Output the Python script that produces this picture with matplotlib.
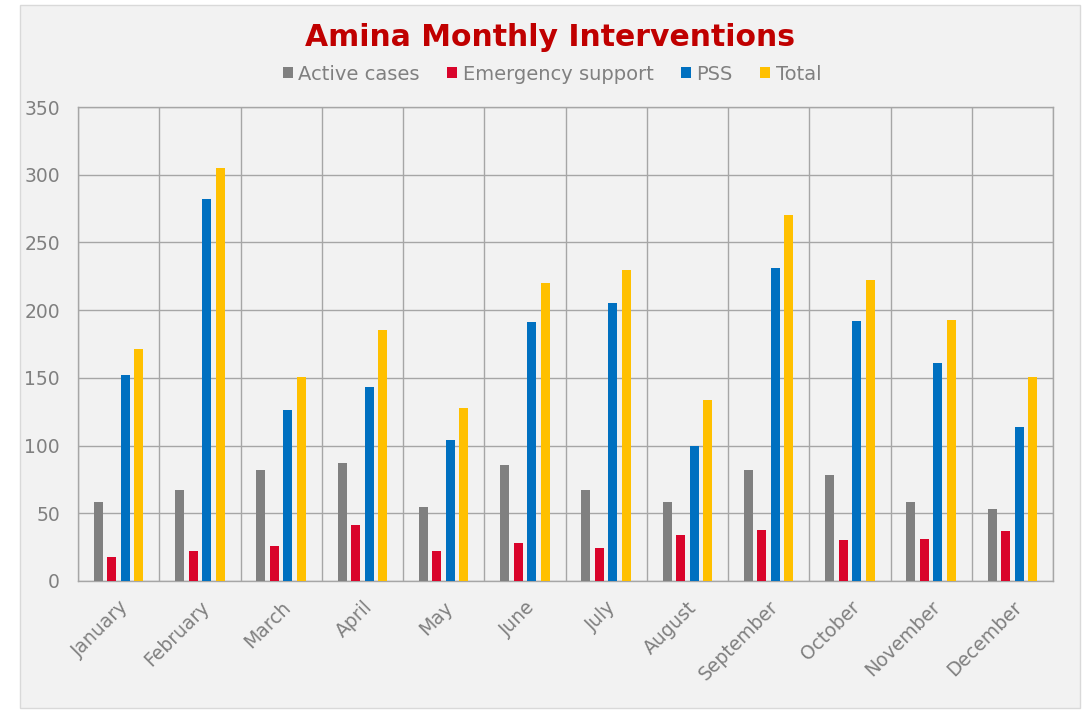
import numpy as np
import matplotlib
matplotlib.use("Agg")
import matplotlib.pyplot as plt
from matplotlib.patches import Rectangle

months = ["January", "February", "March", "April", "May", "June",
          "July", "August", "September", "October", "November", "December"]
active_cases = [58, 67, 82, 87, 55, 86, 67, 58, 82, 78, 58, 53]
emergency_support = [18, 22, 26, 41, 22, 28, 24, 34, 38, 30, 31, 37]
pss = [152, 282, 126, 143, 104, 191, 205, 100, 231, 192, 161, 114]
total = [171, 305, 151, 185, 128, 220, 230, 134, 270, 222, 193, 151]

series = [
    ("Active cases", active_cases, "#808080"),
    ("Emergency support", emergency_support, "#D9042B"),
    ("PSS", pss, "#0070C0"),
    ("Total", total, "#FFC000"),
]

BG = "#F2F2F2"
TEXT = "#808080"
GRID = "#A6A6A6"

fig = plt.figure(figsize=(10.84, 7.11), dpi=100)
fig.patch.set_facecolor("white")
frame = Rectangle((20 / 1084, 3 / 711), 1060 / 1084, 703 / 711,
                  transform=fig.transFigure, facecolor=BG,
                  edgecolor="#D9D9D9", linewidth=1, zorder=-10)
fig.add_artist(frame)

ax = fig.add_axes([78 / 1084, 1 - 581 / 711, 975 / 1084, 474 / 711])
ax.set_zorder(1)
ax.set_facecolor(BG)

x = np.arange(len(months))
width = 0.11
pitch = 0.166
for i, (name, vals, color) in enumerate(series):
    offset = (i - 1.5) * pitch
    ax.bar(x + offset, vals, width=width, color=color, label=name, zorder=3)

ax.set_xlim(-0.5, len(months) - 0.5)
ax.set_ylim(0, 350)
ax.set_yticks(np.arange(0, 351, 50))
ax.set_xticks(x)
ax.set_xticklabels(months, rotation=45, ha="right", rotation_mode="anchor")
ax.set_xticks(np.arange(-0.5, len(months), 1), minor=True)

ax.grid(True, axis="y", color=GRID, linewidth=1, zorder=1)
ax.grid(True, axis="x", which="minor", color=GRID, linewidth=1, zorder=1)
ax.grid(False, axis="x", which="major")

for s in ax.spines.values():
    s.set_color(GRID)
    s.set_linewidth(1)

ax.tick_params(axis="y", length=0, pad=13, labelsize=13.5, labelcolor=TEXT)
ax.tick_params(axis="x", which="major", length=0, pad=12, labelsize=13.5, labelcolor=TEXT)
ax.tick_params(axis="x", which="minor", length=0)

fig.text(550 / 1084, 1 - 37 / 711, "Amina Monthly Interventions", ha="center", va="center",
         fontsize=21.5, fontweight="bold", color="#C00000")

handles, labels = ax.get_legend_handles_labels()
fig.legend(handles, labels, loc="center", bbox_to_anchor=(552 / 1084, 1 - 74 / 711), ncol=4,
           frameon=False, fontsize=14, labelcolor=TEXT,
           handlelength=0.5, handleheight=0.5, handletextpad=0.3, columnspacing=1.4)

fig.savefig("out.png", dpi=100, facecolor=fig.get_facecolor())
